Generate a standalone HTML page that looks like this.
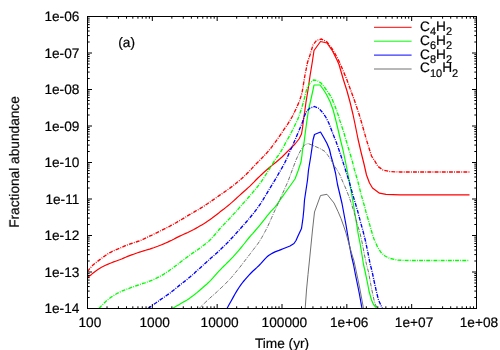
<!DOCTYPE html>
<html><head><meta charset="utf-8"><title>plot</title>
<style>
html,body{margin:0;padding:0;background:#fff;}
body{width:500px;height:350px;overflow:hidden;}
svg{display:block;}
text{font-family:"Liberation Sans",sans-serif;font-size:13.7px;fill:#000;stroke:#000;stroke-width:0.2px;text-rendering:geometricPrecision;}
</style></head><body>
<svg width="500" height="350" viewBox="0 0 500 350">
<rect width="500" height="350" fill="#fff"/>
<defs><clipPath id="cp"><rect x="87.5" y="16.5" width="389.0" height="292.0"/></clipPath></defs>

<g clip-path="url(#cp)" fill="none" stroke-width="1.2" stroke-linejoin="round">
<path d="M87.5 277.5 L89.5 275.9 L91.5 274.4 L93.5 272.8 L95.5 271.3 L97.5 269.8 L99.5 268.5 L101.5 267.3 L103.5 266.3 L105.5 265.3 L107.6 264.4 L109.6 263.5 L111.6 262.7 L113.6 261.9 L115.6 261.2 L117.6 260.5 L119.6 259.8 L121.6 259.0 L123.6 258.1 L125.6 257.3 L127.6 256.4 L129.6 255.6 L131.6 254.9 L133.6 254.2 L135.6 253.5 L137.6 252.8 L139.6 252.1 L141.6 251.5 L143.6 250.9 L145.6 250.3 L147.7 249.7 L149.7 249.1 L151.7 248.4 L153.7 247.8 L155.7 247.0 L157.7 246.3 L159.7 245.5 L161.7 244.7 L163.7 243.9 L165.7 243.0 L167.7 242.1 L169.7 241.1 L171.7 240.2 L173.7 239.2 L175.7 238.1 L177.7 237.1 L179.7 236.1 L181.7 235.2 L183.7 234.3 L185.8 233.4 L187.8 232.5 L189.8 231.5 L191.8 230.5 L193.8 229.5 L195.8 228.4 L197.8 227.3 L199.8 226.1 L201.8 224.9 L203.8 223.7 L205.8 222.4 L207.8 221.1 L209.8 219.7 L211.8 218.3 L213.8 216.8 L215.8 215.3 L217.8 213.7 L219.8 212.1 L221.8 210.6 L223.9 209.0 L225.9 207.4 L227.9 205.8 L229.9 204.1 L231.9 202.4 L233.9 200.6 L235.9 198.8 L237.9 196.9 L239.9 195.1 L241.9 193.3 L243.9 191.5 L245.9 189.8 L247.9 187.9 L249.9 186.1 L251.9 184.1 L253.9 182.1 L255.9 180.0 L257.9 178.0 L259.9 176.1 L261.9 174.2 L264.0 172.3 L266.0 170.5 L268.0 168.7 L270.0 167.0 L272.0 165.4 L274.0 163.8 L276.0 162.2 L278.0 160.5 L280.0 158.8 L282.0 157.0 L289.0 150.0 L295.0 144.0 L299.0 139.0 L301.5 134.0 L302.5 128.0 L303.5 120.0 L304.5 113.0 L306.0 102.0 L308.0 90.0 L310.0 76.0 L312.3 62.0 L314.0 50.5 L320.5 41.5 L327.0 43.0 L332.5 51.0 L337.0 60.0 L339.0 64.5 L343.5 80.0 L347.0 91.0 L350.0 102.0 L353.0 114.5 L355.0 124.0 L358.0 139.0 L361.0 152.0 L364.0 164.0 L366.5 175.0 L369.5 183.0 L372.5 188.0 L379.5 193.2 L386.0 194.4 L400.0 194.8 L469.5 194.8" stroke="#ff0000"/>
<path d="M172.5 308.5 L174.5 307.3 L176.5 306.1 L178.5 304.9 L180.5 303.7 L182.5 302.5 L184.6 301.4 L186.6 300.2 L188.6 298.9 L190.6 297.6 L192.6 296.1 L194.6 294.5 L196.6 292.9 L198.6 291.2 L200.6 289.5 L202.6 287.8 L204.6 286.0 L206.7 284.2 L208.7 282.3 L210.7 280.3 L212.7 278.2 L214.7 275.9 L216.7 273.6 L218.7 271.4 L220.7 269.3 L222.7 267.2 L224.7 265.3 L226.7 263.3 L228.8 261.3 L230.8 259.2 L232.8 257.1 L234.8 254.9 L236.8 252.7 L238.8 250.4 L240.8 248.0 L242.8 245.5 L244.8 243.0 L246.8 240.4 L248.8 238.0 L250.8 235.6 L252.9 233.3 L254.9 231.0 L256.9 228.7 L258.9 226.3 L260.9 223.9 L262.9 221.4 L264.9 218.8 L266.9 216.2 L268.9 213.8 L270.9 211.4 L272.9 209.3 L275.0 207.1 L277.0 204.4 L279.0 201.5 L281.0 198.6 L283.0 195.8 L285.0 193.0 L290.0 186.0 L295.0 179.0 L298.0 171.0 L301.0 162.0 L302.0 155.0 L302.5 150.0 L304.0 143.0 L305.5 131.0 L307.0 120.0 L308.5 110.0 L311.0 99.0 L313.0 90.0 L314.0 85.0 L320.0 85.0 L323.0 89.0 L326.5 94.5 L330.0 101.5 L333.0 109.5 L336.0 121.0 L339.0 133.5 L340.5 140.0 L343.0 150.0 L345.5 162.0 L347.5 172.0 L349.5 182.0 L351.7 194.5 L354.0 208.0 L356.3 222.0 L358.2 234.0 L360.0 243.0 L362.0 255.0 L363.5 264.5 L365.0 271.0 L367.5 283.0 L369.0 291.0 L371.5 300.0 L373.5 304.5 L377.0 308.5" stroke="#00ff00"/>
<path d="M227.0 308.5 L229.0 304.8 L231.0 301.2 L233.0 297.6 L235.0 294.0 L237.0 290.6 L239.0 287.5 L241.0 284.6 L243.0 282.0 L245.0 279.6 L247.0 277.3 L249.0 275.1 L251.0 273.0 L253.0 271.0 L255.0 269.2 L257.0 267.4 L259.0 265.5 L261.0 263.4 L263.0 261.1 L265.0 258.8 L267.0 256.8 L269.0 255.3 L271.0 254.0 L273.0 252.9 L275.0 251.9 L277.0 251.1 L279.0 250.4 L281.0 249.6 L283.0 248.8 L285.0 248.0 L290.0 246.0 L294.0 243.5 L296.0 240.5 L298.0 236.0 L301.5 228.5 L303.0 218.0 L303.8 210.0 L304.5 200.0 L306.0 190.0 L307.5 180.0 L308.5 170.0 L310.5 158.0 L312.0 148.0 L313.0 140.0 L314.5 134.5 L320.5 132.0 L324.0 138.0 L327.0 143.5 L329.5 149.5 L331.0 156.0 L333.5 165.0 L335.5 173.0 L337.5 184.5 L340.0 195.0 L342.0 203.5 L343.5 211.5 L346.0 225.0 L347.5 234.0 L349.0 243.0 L351.5 256.0 L353.5 264.5 L355.5 275.0 L358.0 287.0 L359.5 294.5 L362.0 308.5" stroke="#0000ff"/>
<path d="M305.2 308.5 L306.5 290.0 L308.0 274.5 L309.5 260.0 L311.0 245.0 L312.5 230.0 L314.5 212.0 L320.5 195.5 L327.0 194.3 L334.0 203.0 L338.0 211.5 L341.0 218.5 L344.0 227.0 L346.0 233.0 L349.0 244.0 L351.5 253.0 L354.0 261.0 L357.0 275.0 L359.5 287.0 L361.0 295.0 L363.5 308.5" stroke="#707070" stroke-width="1"/>
<path d="M87.5 271.6 L89.5 268.9 L91.5 266.5 L93.5 264.6 L95.5 262.9 L97.5 261.4 L99.5 259.9 L101.5 258.4 L103.5 256.9 L105.5 255.5 L107.5 254.1 L109.5 252.9 L111.5 251.8 L113.5 250.8 L115.5 249.9 L117.5 249.1 L119.5 248.2 L121.5 247.4 L123.5 246.5 L125.5 245.7 L127.5 244.9 L129.5 244.2 L131.5 243.5 L133.5 242.8 L135.5 242.2 L137.5 241.5 L139.5 240.8 L141.5 240.0 L143.5 239.1 L145.5 238.2 L147.5 237.2 L149.5 236.2 L151.5 235.3 L153.5 234.3 L155.5 233.3 L157.5 232.3 L159.5 231.3 L161.5 230.3 L163.5 229.3 L165.5 228.3 L167.5 227.3 L169.5 226.3 L171.5 225.2 L173.5 224.1 L175.5 223.0 L177.5 221.8 L179.5 220.7 L181.5 219.5 L183.5 218.3 L185.5 217.1 L187.5 215.9 L189.5 214.7 L191.5 213.5 L193.5 212.4 L195.5 211.2 L197.5 210.1 L199.5 208.9 L201.5 207.7 L203.5 206.4 L205.5 205.0 L207.5 203.7 L209.5 202.3 L211.5 201.0 L213.5 199.6 L215.5 198.2 L217.5 196.8 L219.5 195.4 L221.5 194.0 L223.5 192.6 L225.5 191.2 L227.5 189.8 L229.5 188.4 L231.5 186.9 L233.5 185.3 L235.5 183.8 L237.5 182.1 L239.5 180.4 L241.5 178.7 L243.5 176.9 L245.5 175.0 L247.5 173.0 L249.5 171.0 L251.5 168.9 L253.5 166.6 L255.5 164.5 L257.5 162.5 L259.5 160.5 L261.5 158.5 L263.5 156.4 L265.5 154.3 L267.5 152.1 L269.5 149.8 L271.5 147.3 L273.5 144.6 L275.5 141.8 L277.5 139.0 L279.5 136.2 L281.5 133.3 L283.5 130.2 L285.5 127.3 L287.5 124.5 L292.0 117.0 L296.0 109.0 L299.5 101.0 L302.0 93.0 L305.0 75.0 L307.5 62.5 L310.0 55.0 L313.0 45.0 L316.5 40.5 L321.5 39.0 L327.0 42.0 L333.0 50.0 L338.0 59.0 L340.5 64.5 L347.0 80.0 L351.0 91.0 L355.0 102.0 L359.0 114.0 L362.0 124.0 L366.5 140.0 L369.0 148.0 L371.5 156.0 L374.5 160.5 L378.0 166.5 L383.0 170.0 L390.0 171.6 L400.0 172.0 L469.5 172.0" stroke="#ff0000" stroke-dasharray="3.9 1.2 0.9 1.2" stroke-width="1.35"/>
<path d="M99.0 308.5 L101.0 306.3 L103.0 304.2 L105.0 302.2 L107.0 300.4 L109.0 298.8 L111.0 297.3 L113.0 295.9 L115.0 294.7 L117.0 293.5 L119.0 292.5 L121.0 291.5 L123.0 290.7 L125.0 289.9 L127.0 289.1 L129.0 288.4 L131.0 287.6 L133.0 286.9 L135.0 286.2 L137.0 285.5 L139.0 284.7 L141.0 284.1 L143.0 283.4 L145.0 282.8 L147.0 282.1 L149.0 281.4 L151.0 280.6 L153.0 279.8 L155.0 278.9 L157.0 277.9 L159.0 276.9 L161.0 275.8 L163.0 274.7 L165.0 273.4 L167.0 272.1 L169.0 270.7 L171.0 269.3 L173.0 267.8 L175.0 266.3 L177.0 264.8 L179.0 263.3 L181.0 261.7 L183.0 260.2 L185.0 258.7 L187.0 257.2 L189.0 255.7 L191.0 254.3 L193.0 252.9 L195.0 251.5 L197.0 250.2 L199.0 248.7 L201.0 247.3 L203.0 245.8 L205.0 244.2 L207.0 242.6 L209.0 240.9 L211.0 239.0 L213.0 236.8 L215.0 234.5 L217.0 232.1 L219.0 229.7 L221.0 227.5 L223.0 225.4 L225.0 223.3 L227.0 221.2 L229.0 219.1 L231.0 216.9 L233.0 214.7 L235.0 212.6 L237.0 210.3 L239.0 208.1 L241.0 205.9 L243.0 203.6 L245.0 201.4 L247.0 199.1 L249.0 196.8 L251.0 194.4 L253.0 192.1 L255.0 189.8 L257.0 187.4 L259.0 184.8 L261.0 182.1 L263.0 179.1 L265.0 176.0 L267.0 172.8 L269.0 169.6 L271.0 166.4 L273.0 163.1 L275.0 160.0 L277.0 157.2 L279.0 154.5 L281.0 151.3 L283.0 147.7 L285.0 144.0 L290.0 135.0 L294.0 127.0 L297.5 120.0 L299.0 116.0 L302.0 107.0 L304.5 98.0 L306.5 90.0 L307.5 87.0 L310.0 83.0 L313.5 80.0 L317.0 80.5 L321.0 83.0 L325.0 88.0 L328.5 93.0 L331.0 96.5 L335.0 106.0 L338.0 114.5 L340.0 121.0 L344.0 133.0 L346.0 140.0 L349.0 150.0 L352.0 160.0 L354.5 170.0 L358.0 182.0 L361.0 194.0 L364.0 204.5 L366.0 212.0 L369.5 224.0 L372.5 234.5 L374.0 239.0 L377.5 247.0 L381.0 252.5 L385.0 256.0 L389.5 258.3 L398.0 260.2 L410.0 260.5 L469.5 260.5" stroke="#00ff00" stroke-dasharray="3.9 1.2 0.9 1.2" stroke-width="1.35"/>
<path d="M148.0 308.5 L150.0 307.1 L152.0 305.6 L154.0 304.2 L156.1 302.8 L158.1 301.4 L160.1 299.9 L162.1 298.5 L164.1 297.2 L166.1 295.8 L168.1 294.4 L170.2 292.9 L172.2 291.3 L174.2 289.7 L176.2 288.1 L178.2 286.4 L180.2 284.8 L182.2 283.2 L184.3 281.6 L186.3 280.0 L188.3 278.4 L190.3 276.7 L192.3 275.0 L194.3 273.2 L196.3 271.3 L198.4 269.5 L200.4 267.7 L202.4 265.8 L204.4 264.0 L206.4 262.2 L208.4 260.4 L210.4 258.6 L212.5 256.8 L214.5 255.0 L216.5 253.2 L218.5 251.4 L220.5 249.5 L222.5 247.6 L224.6 245.6 L226.6 243.6 L228.6 241.5 L230.6 239.4 L232.6 237.3 L234.6 235.1 L236.6 232.8 L238.7 230.5 L240.7 228.3 L242.7 226.0 L244.7 223.8 L246.7 221.5 L248.7 219.1 L250.7 216.7 L252.8 214.2 L254.8 211.7 L256.8 209.0 L258.8 206.2 L260.8 203.3 L262.8 200.1 L264.8 196.7 L266.9 193.3 L268.9 189.9 L270.9 186.6 L272.9 183.4 L274.9 180.1 L276.9 176.7 L278.9 173.1 L281.0 169.6 L283.0 166.1 L285.0 162.2 L287.0 158.0 L290.5 150.0 L292.0 147.0 L295.0 140.0 L298.0 133.0 L300.5 127.0 L302.5 122.0 L304.0 117.0 L306.5 111.5 L310.0 108.0 L314.5 106.5 L319.0 108.5 L323.0 113.0 L326.0 117.5 L329.0 123.5 L333.0 134.0 L336.0 141.5 L339.0 150.0 L342.0 159.0 L345.5 170.0 L349.0 181.0 L352.0 192.0 L354.5 200.5 L357.5 210.5 L360.5 222.0 L363.0 231.0 L365.5 241.0 L368.0 253.0 L370.0 263.5 L372.0 271.0 L374.5 283.0 L376.5 292.0 L378.5 300.0 L381.5 306.5 L382.5 308.5" stroke="#0000ff" stroke-dasharray="3.9 1.2 0.9 1.2" stroke-width="1.35"/>
<path d="M199.0 308.5 L201.0 306.5 L203.0 304.6 L205.1 302.6 L207.1 300.7 L209.1 298.8 L211.1 297.0 L213.2 295.2 L215.2 293.4 L217.2 291.6 L219.2 289.7 L221.2 287.8 L223.3 285.9 L225.3 283.9 L227.3 281.8 L229.3 279.7 L231.4 277.5 L233.4 275.1 L235.4 272.7 L237.4 270.2 L239.5 267.7 L241.5 265.1 L243.5 262.5 L245.5 259.9 L247.5 257.2 L249.6 254.6 L251.6 251.9 L253.6 249.3 L255.6 246.7 L257.7 244.0 L259.7 241.0 L261.7 237.7 L263.7 234.1 L265.8 230.2 L267.8 226.2 L269.8 221.9 L271.8 217.3 L273.8 212.7 L275.9 208.4 L277.9 204.0 L279.9 199.5 L281.9 194.9 L284.0 190.3 L286.0 185.9 L288.0 181.5 L290.0 176.0 L293.0 168.0 L296.0 160.0 L299.0 153.5 L301.5 149.0 L304.5 145.0 L308.0 143.5 L313.0 145.5 L320.0 148.5 L325.0 151.5 L328.0 155.5 L331.0 160.0 L335.0 167.0 L337.5 170.5 L340.0 175.0 L342.0 180.0 L346.0 189.0 L349.5 198.0 L352.0 205.5 L355.0 215.5 L357.5 225.0 L359.8 232.0 L362.0 242.0 L364.5 255.0 L366.5 264.5 L368.5 272.0 L370.5 283.0 L372.5 293.0 L374.0 300.0 L375.5 305.0 L378.0 308.5" stroke="#707070" stroke-dasharray="3.9 1.2 0.9 1.2" stroke-width="1"/>
</g>
<path d="M87.50 308.50 v-4.50 M87.50 16.50 v4.50 M107.02 308.50 v-2.20 M107.02 16.50 v2.20 M118.43 308.50 v-2.20 M118.43 16.50 v2.20 M126.53 308.50 v-2.20 M126.53 16.50 v2.20 M132.82 308.50 v-2.20 M132.82 16.50 v2.20 M137.95 308.50 v-2.20 M137.95 16.50 v2.20 M142.29 308.50 v-2.20 M142.29 16.50 v2.20 M146.05 308.50 v-2.20 M146.05 16.50 v2.20 M149.37 308.50 v-2.20 M149.37 16.50 v2.20 M152.33 308.50 v-4.50 M152.33 16.50 v4.50 M171.85 308.50 v-2.20 M171.85 16.50 v2.20 M183.27 308.50 v-2.20 M183.27 16.50 v2.20 M191.37 308.50 v-2.20 M191.37 16.50 v2.20 M197.65 308.50 v-2.20 M197.65 16.50 v2.20 M202.78 308.50 v-2.20 M202.78 16.50 v2.20 M207.12 308.50 v-2.20 M207.12 16.50 v2.20 M210.88 308.50 v-2.20 M210.88 16.50 v2.20 M214.20 308.50 v-2.20 M214.20 16.50 v2.20 M217.17 308.50 v-4.50 M217.17 16.50 v4.50 M236.68 308.50 v-2.20 M236.68 16.50 v2.20 M248.10 308.50 v-2.20 M248.10 16.50 v2.20 M256.20 308.50 v-2.20 M256.20 16.50 v2.20 M262.48 308.50 v-2.20 M262.48 16.50 v2.20 M267.62 308.50 v-2.20 M267.62 16.50 v2.20 M271.96 308.50 v-2.20 M271.96 16.50 v2.20 M275.72 308.50 v-2.20 M275.72 16.50 v2.20 M279.03 308.50 v-2.20 M279.03 16.50 v2.20 M282.00 308.50 v-4.50 M282.00 16.50 v4.50 M301.52 308.50 v-2.20 M301.52 16.50 v2.20 M312.93 308.50 v-2.20 M312.93 16.50 v2.20 M321.03 308.50 v-2.20 M321.03 16.50 v2.20 M327.32 308.50 v-2.20 M327.32 16.50 v2.20 M332.45 308.50 v-2.20 M332.45 16.50 v2.20 M336.79 308.50 v-2.20 M336.79 16.50 v2.20 M340.55 308.50 v-2.20 M340.55 16.50 v2.20 M343.87 308.50 v-2.20 M343.87 16.50 v2.20 M346.83 308.50 v-4.50 M346.83 16.50 v4.50 M366.35 308.50 v-2.20 M366.35 16.50 v2.20 M377.77 308.50 v-2.20 M377.77 16.50 v2.20 M385.87 308.50 v-2.20 M385.87 16.50 v2.20 M392.15 308.50 v-2.20 M392.15 16.50 v2.20 M397.28 308.50 v-2.20 M397.28 16.50 v2.20 M401.62 308.50 v-2.20 M401.62 16.50 v2.20 M405.38 308.50 v-2.20 M405.38 16.50 v2.20 M408.70 308.50 v-2.20 M408.70 16.50 v2.20 M411.67 308.50 v-4.50 M411.67 16.50 v4.50 M431.18 308.50 v-2.20 M431.18 16.50 v2.20 M442.60 308.50 v-2.20 M442.60 16.50 v2.20 M450.70 308.50 v-2.20 M450.70 16.50 v2.20 M456.98 308.50 v-2.20 M456.98 16.50 v2.20 M462.12 308.50 v-2.20 M462.12 16.50 v2.20 M466.46 308.50 v-2.20 M466.46 16.50 v2.20 M470.22 308.50 v-2.20 M470.22 16.50 v2.20 M473.53 308.50 v-2.20 M473.53 16.50 v2.20 M476.50 308.50 v-4.50 M476.50 16.50 v4.50 M87.50 16.50 h4.50 M476.50 16.50 h-4.50 M87.50 42.01 h2.20 M476.50 42.01 h-2.20 M87.50 35.59 h2.20 M476.50 35.59 h-2.20 M87.50 31.02 h2.20 M476.50 31.02 h-2.20 M87.50 27.49 h2.20 M476.50 27.49 h-2.20 M87.50 24.60 h2.20 M476.50 24.60 h-2.20 M87.50 22.15 h2.20 M476.50 22.15 h-2.20 M87.50 20.04 h2.20 M476.50 20.04 h-2.20 M87.50 18.17 h2.20 M476.50 18.17 h-2.20 M87.50 53.00 h4.50 M476.50 53.00 h-4.50 M87.50 78.51 h2.20 M476.50 78.51 h-2.20 M87.50 72.09 h2.20 M476.50 72.09 h-2.20 M87.50 67.52 h2.20 M476.50 67.52 h-2.20 M87.50 63.99 h2.20 M476.50 63.99 h-2.20 M87.50 61.10 h2.20 M476.50 61.10 h-2.20 M87.50 58.65 h2.20 M476.50 58.65 h-2.20 M87.50 56.54 h2.20 M476.50 56.54 h-2.20 M87.50 54.67 h2.20 M476.50 54.67 h-2.20 M87.50 89.50 h4.50 M476.50 89.50 h-4.50 M87.50 115.01 h2.20 M476.50 115.01 h-2.20 M87.50 108.59 h2.20 M476.50 108.59 h-2.20 M87.50 104.02 h2.20 M476.50 104.02 h-2.20 M87.50 100.49 h2.20 M476.50 100.49 h-2.20 M87.50 97.60 h2.20 M476.50 97.60 h-2.20 M87.50 95.15 h2.20 M476.50 95.15 h-2.20 M87.50 93.04 h2.20 M476.50 93.04 h-2.20 M87.50 91.17 h2.20 M476.50 91.17 h-2.20 M87.50 126.00 h4.50 M476.50 126.00 h-4.50 M87.50 151.51 h2.20 M476.50 151.51 h-2.20 M87.50 145.09 h2.20 M476.50 145.09 h-2.20 M87.50 140.52 h2.20 M476.50 140.52 h-2.20 M87.50 136.99 h2.20 M476.50 136.99 h-2.20 M87.50 134.10 h2.20 M476.50 134.10 h-2.20 M87.50 131.65 h2.20 M476.50 131.65 h-2.20 M87.50 129.54 h2.20 M476.50 129.54 h-2.20 M87.50 127.67 h2.20 M476.50 127.67 h-2.20 M87.50 162.50 h4.50 M476.50 162.50 h-4.50 M87.50 188.01 h2.20 M476.50 188.01 h-2.20 M87.50 181.59 h2.20 M476.50 181.59 h-2.20 M87.50 177.02 h2.20 M476.50 177.02 h-2.20 M87.50 173.49 h2.20 M476.50 173.49 h-2.20 M87.50 170.60 h2.20 M476.50 170.60 h-2.20 M87.50 168.15 h2.20 M476.50 168.15 h-2.20 M87.50 166.04 h2.20 M476.50 166.04 h-2.20 M87.50 164.17 h2.20 M476.50 164.17 h-2.20 M87.50 199.00 h4.50 M476.50 199.00 h-4.50 M87.50 224.51 h2.20 M476.50 224.51 h-2.20 M87.50 218.09 h2.20 M476.50 218.09 h-2.20 M87.50 213.52 h2.20 M476.50 213.52 h-2.20 M87.50 209.99 h2.20 M476.50 209.99 h-2.20 M87.50 207.10 h2.20 M476.50 207.10 h-2.20 M87.50 204.65 h2.20 M476.50 204.65 h-2.20 M87.50 202.54 h2.20 M476.50 202.54 h-2.20 M87.50 200.67 h2.20 M476.50 200.67 h-2.20 M87.50 235.50 h4.50 M476.50 235.50 h-4.50 M87.50 261.01 h2.20 M476.50 261.01 h-2.20 M87.50 254.59 h2.20 M476.50 254.59 h-2.20 M87.50 250.02 h2.20 M476.50 250.02 h-2.20 M87.50 246.49 h2.20 M476.50 246.49 h-2.20 M87.50 243.60 h2.20 M476.50 243.60 h-2.20 M87.50 241.15 h2.20 M476.50 241.15 h-2.20 M87.50 239.04 h2.20 M476.50 239.04 h-2.20 M87.50 237.17 h2.20 M476.50 237.17 h-2.20 M87.50 272.00 h4.50 M476.50 272.00 h-4.50 M87.50 297.51 h2.20 M476.50 297.51 h-2.20 M87.50 291.09 h2.20 M476.50 291.09 h-2.20 M87.50 286.52 h2.20 M476.50 286.52 h-2.20 M87.50 282.99 h2.20 M476.50 282.99 h-2.20 M87.50 280.10 h2.20 M476.50 280.10 h-2.20 M87.50 277.65 h2.20 M476.50 277.65 h-2.20 M87.50 275.54 h2.20 M476.50 275.54 h-2.20 M87.50 273.67 h2.20 M476.50 273.67 h-2.20 M87.50 308.50 h4.50 M476.50 308.50 h-4.50" stroke="#000" stroke-width="1" fill="none"/>
<rect x="87.5" y="16.5" width="389.0" height="292.0" fill="none" stroke="#000" stroke-width="1"/>
<g opacity="0.999">
<text x="79.4" y="21.3" text-anchor="end">1e-06</text>
<text x="79.4" y="57.8" text-anchor="end">1e-07</text>
<text x="79.4" y="94.3" text-anchor="end">1e-08</text>
<text x="79.4" y="130.8" text-anchor="end">1e-09</text>
<text x="79.4" y="167.3" text-anchor="end">1e-10</text>
<text x="79.4" y="203.8" text-anchor="end">1e-11</text>
<text x="79.4" y="240.3" text-anchor="end">1e-12</text>
<text x="79.4" y="276.8" text-anchor="end">1e-13</text>
<text x="79.4" y="313.3" text-anchor="end">1e-14</text>
<text x="89.9" y="326.8" text-anchor="middle">100</text>
<text x="154.7" y="326.8" text-anchor="middle">1000</text>
<text x="219.6" y="326.8" text-anchor="middle">10000</text>
<text x="284.4" y="326.8" text-anchor="middle">100000</text>
<text x="349.2" y="326.8" text-anchor="middle">1e+06</text>
<text x="414.1" y="326.8" text-anchor="middle">1e+07</text>
<text x="478.9" y="326.8" text-anchor="middle">1e+08</text>
<text x="282" y="347.7" text-anchor="middle">Time (yr)</text>
<text transform="translate(18.9,162) rotate(-90)" text-anchor="middle">Fractional abundance</text>
<text x="118.3" y="47.2">(a)</text>
<path d="M374 27.3 H411.6" stroke="#ff0000" stroke-width="1" fill="none"/>
<text x="420" y="30.7">C<tspan dy="4.1" font-size="11">4</tspan><tspan dy="-4.1">H</tspan><tspan dy="4.1" font-size="11">2</tspan></text>
<path d="M374 41.2 H411.6" stroke="#00ff00" stroke-width="1" fill="none"/>
<text x="420" y="44.6">C<tspan dy="4.1" font-size="11">6</tspan><tspan dy="-4.1">H</tspan><tspan dy="4.1" font-size="11">2</tspan></text>
<path d="M374 55.1 H411.6" stroke="#0000ff" stroke-width="1" fill="none"/>
<text x="420" y="58.5">C<tspan dy="4.1" font-size="11">8</tspan><tspan dy="-4.1">H</tspan><tspan dy="4.1" font-size="11">2</tspan></text>
<path d="M374 69.0 H411.6" stroke="#707070" stroke-width="1" fill="none"/>
<text x="420" y="72.4">C<tspan dy="4.1" font-size="11">10</tspan><tspan dy="-4.1">H</tspan><tspan dy="4.1" font-size="11">2</tspan></text>
</g>
</svg></body></html>
